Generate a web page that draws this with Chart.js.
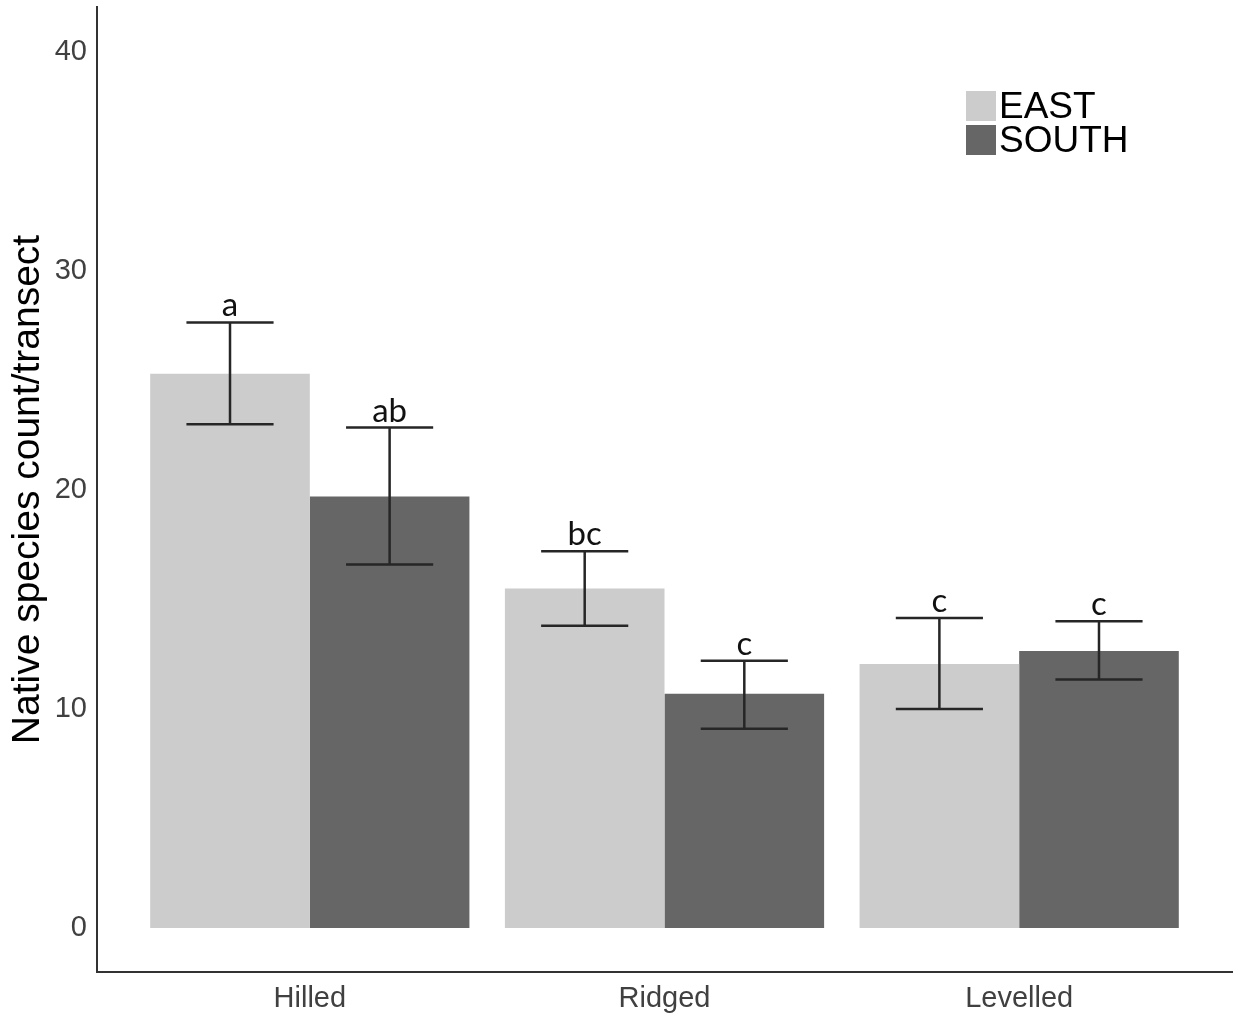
<!DOCTYPE html>
<html>
<head>
<meta charset="utf-8">
<script src="https://cdn.jsdelivr.net/npm/chart.js@4.4.1/dist/chart.umd.min.js"></script>
<style>
  html, body { margin: 0; padding: 0; background: #fff; }
  #wrap { width: 1238px; height: 1016px; position: relative; }
</style>
</head>
<body>
<div id="wrap"><canvas id="chart"></canvas></div>
<script>
// data
const categories = ["Hilled", "Ridged", "Levelled"];
const seriesNames = ["EAST", "SOUTH"];
const eastMean = [25.3, 15.5, 12.05];
const eastUpper = [27.65, 17.2, 14.15];
const eastLower = [23.0, 13.8, 10.0];
const eastLetters = ["a", "bc", "c"];
const southMean = [19.7, 10.7, 12.65];
const southUpper = [22.85, 12.2, 14.0];
const southLower = [16.6, 9.1, 11.35];
const southLetters = ["ab", "c", "c"];
const yTicks = [0, 10, 20, 30, 40];

const colors = ["#cccccc", "#666666"];
const upper = [eastUpper, southUpper];
const lower = [eastLower, southLower];
const letters = [eastLetters, southLetters];

// error bars + significance letters
const errorBars = {
  id: "errorBars",
  afterDatasetsDraw(chart) {
    const ctx = chart.ctx;
    const y = chart.scales.y;
    ctx.save();
    ctx.strokeStyle = "#262626";
    ctx.lineWidth = 2.5;
    chart.data.datasets.forEach((ds, di) => {
      const meta = chart.getDatasetMeta(di);
      meta.data.forEach((bar, i) => {
        const hi = y.getPixelForValue(upper[di][i]);
        const lo = y.getPixelForValue(lower[di][i]);
        const half = bar.width * 0.273;
        ctx.beginPath();
        ctx.moveTo(bar.x, hi); ctx.lineTo(bar.x, lo);
        ctx.moveTo(bar.x - half, hi); ctx.lineTo(bar.x + half, hi);
        ctx.moveTo(bar.x - half, lo); ctx.lineTo(bar.x + half, lo);
        ctx.stroke();
        ctx.fillStyle = "#111";
        ctx.font = "33px Lato";
        ctx.textAlign = "center";
        ctx.textBaseline = "alphabetic";
        ctx.fillText(letters[di][i], bar.x, hi - 6);
      });
    });
    ctx.restore();
  }
};

// legend in the top-right corner, like the original
const cornerLegend = {
  id: "cornerLegend",
  afterDraw(chart) {
    const ctx = chart.ctx;
    const x0 = chart.chartArea.right - 266;
    const y0 = 91;
    ctx.save();
    seriesNames.forEach((name, i) => {
      const top = y0 + i * 34;
      ctx.fillStyle = colors[i];
      ctx.fillRect(x0, top, 30, 30);
      ctx.fillStyle = "#000";
      ctx.font = "37px 'Liberation Sans'";
      ctx.textAlign = "left";
      ctx.textBaseline = "alphabetic";
      ctx.fillText(name, x0 + 33, top + 27);
    });
    ctx.restore();
  }
};

const datasets = [eastMean, southMean].map((vals, di) => ({
  label: seriesNames[di],
  data: vals.map((v, i) => ({ x: i + 1, y: v })),
  backgroundColor: colors[di],
  borderWidth: 0,
  categoryPercentage: 0.9,
  barPercentage: 1.0
}));

new Chart(document.getElementById("chart"), {
  type: "bar",
  data: { datasets },
  options: {
    responsive: true,
    maintainAspectRatio: false,
    animation: false,
    layout: { padding: { top: 7, right: 6, left: 0, bottom: 0 } },
    plugins: { legend: { display: false }, tooltip: { enabled: false } },
    scales: {
      x: {
        type: "linear",
        offset: false,
        min: 0.4,
        max: 3.6,
        grid: { display: false, drawTicks: false, offset: false },
        border: { display: true, color: "#333", width: 2 },
        afterBuildTicks: (s) => { s.ticks = categories.map((c, i) => ({ value: i + 1 })); },
        afterFit: (s) => { s.height = 44; s.paddingLeft = 0; s.paddingRight = 0; },
        ticks: {
          padding: 10,
          color: "#404040",
          font: { family: "'Liberation Sans'", size: 29 },
          callback: (v) => categories[v - 1] || ""
        }
      },
      y: {
        min: -2.01,
        max: 42.05,
        grid: { display: false, drawTicks: false },
        border: { display: true, color: "#333", width: 2 },
        afterBuildTicks: (s) => { s.ticks = yTicks.map(v => ({ value: v })); },
        afterFit: (s) => { s.width = 97; s.paddingTop = 0; s.paddingBottom = 0; },
        ticks: {
          padding: 10,
          color: "#404040",
          font: { family: "'Liberation Sans'", size: 29 }
        },
        title: {
          display: true,
          text: "Native species count/transect",
          color: "#000",
          font: { family: "'Liberation Sans'", size: 39 },
          padding: { top: 5, bottom: 0 }
        }
      }
    }
  },
  plugins: [errorBars, cornerLegend]
});
</script>
</body>
</html>
